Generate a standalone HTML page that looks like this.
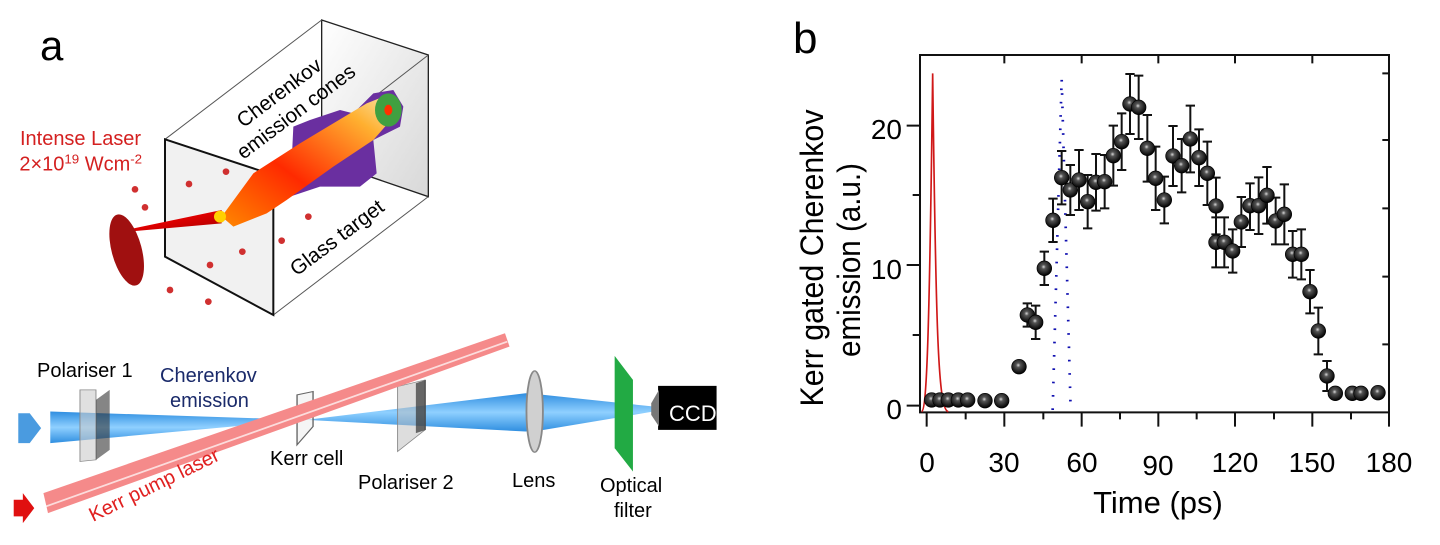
<!DOCTYPE html>
<html><head><meta charset="utf-8"><style>
html,body{margin:0;padding:0;background:#fff;}
svg{display:block;font-family:"Liberation Sans",sans-serif;}
</style></head><body>
<svg width="1440" height="545" viewBox="0 0 1440 545" xmlns="http://www.w3.org/2000/svg">
<defs>
<radialGradient id="ball" cx="0.45" cy="0.4" r="0.6">
<stop offset="0" stop-color="#d8d8d8"/><stop offset="0.25" stop-color="#555"/><stop offset="1" stop-color="#000"/>
</radialGradient>
<linearGradient id="plume" x1="0" y1="1" x2="1" y2="0">
<stop offset="0" stop-color="#ff8800"/><stop offset="0.4" stop-color="#ff2a00"/><stop offset="0.8" stop-color="#ffb030"/><stop offset="1" stop-color="#f8e8b0"/>
</linearGradient>
<linearGradient id="cone" x1="0" y1="0" x2="1" y2="1">
<stop offset="0" stop-color="#ff4040"/><stop offset="0.5" stop-color="#e00000"/><stop offset="1" stop-color="#a00000"/>
</linearGradient>
<linearGradient id="beam" x1="0" y1="0" x2="0" y2="1">
<stop offset="0" stop-color="#2f8ee0"/><stop offset="0.5" stop-color="#8fd0ff"/><stop offset="1" stop-color="#2f8ee0"/>
</linearGradient>
<linearGradient id="glass" x1="0" y1="0" x2="1" y2="1">
<stop offset="0" stop-color="#fff"/><stop offset="1" stop-color="#d8d8d8"/>
</linearGradient>
</defs>

<!-- Panel a top -->
<text x="40" y="60" font-size="42">a</text>
<g transform="scale(0.33333)">
<polygon points="965,60 1285,165 1285,590 965,480" fill="url(#glass)" stroke="#222" stroke-width="4"/>
<line x1="495" y1="418" x2="965" y2="60" stroke="#555" stroke-width="3"/>
<line x1="820" y1="525" x2="1285" y2="165" stroke="#555" stroke-width="3"/>
<line x1="820" y1="945" x2="1285" y2="590" stroke="#555" stroke-width="3"/>
<polygon points="495,418 820,525 820,945 495,770" fill="#eee" fill-opacity="0.8" stroke="#111" stroke-width="6"/>
<polygon points="880,380 930,360 1020,330 1060,340 1120,280 1180,270 1210,320 1200,380 1120,420 1130,520 1080,560 960,560 870,590" fill="#6a2fa0"/>
<polygon points="665,650 760,520 900,430 1100,310 1150,290 1190,340 1120,420 1000,500 860,600 800,640 700,680" fill="url(#plume)"/>
<ellipse cx="1165" cy="330" rx="40" ry="50" fill="#40a040"/>
<ellipse cx="1165" cy="330" rx="12" ry="16" fill="#ff3000"/>
<polygon points="330,700 665,630 665,670" fill="url(#cone)"/>
<ellipse cx="380" cy="750" rx="45" ry="110" transform="rotate(-15 380 750)" fill="#a01010"/>
<circle cx="660" cy="650" r="18" fill="#ffd000"/>
<g fill="#d03030"><circle cx="405" cy="568" r="10"/><circle cx="435" cy="622" r="10"/><circle cx="567" cy="552" r="10"/><circle cx="678" cy="515" r="10"/><circle cx="925" cy="650" r="10"/><circle cx="845" cy="722" r="10"/><circle cx="727" cy="755" r="10"/><circle cx="630" cy="795" r="10"/><circle cx="510" cy="870" r="10"/><circle cx="625" cy="905" r="10"/></g>
<text transform="translate(730,385) rotate(-37)" font-size="62">Cherenkov</text>
<text transform="translate(730,480) rotate(-37)" font-size="62">emission cones</text>
<text transform="translate(890,830) rotate(-37)" font-size="62">Glass target</text>
<text x="60" y="435" font-size="60" fill="#d42020">Intense Laser</text>
<text x="58" y="512" font-size="60" fill="#d42020">2×10<tspan font-size="40" dy="-22">19</tspan><tspan dy="22"> Wcm</tspan><tspan font-size="40" dy="-22">-2</tspan></text>
</g>

<!-- Panel a bottom -->
<g transform="translate(0,280) scale(0.457,0.333)">
<polygon points="110,395 670,420 110,490" fill="url(#beam)"/>
<polygon points="670,420 1150,340 1190,345 1430,380 1430,395 1190,450 1150,455" fill="url(#beam)"/>
<polygon points="40,400 65,400 90,445 65,490 40,490 40,465" fill="#4a9be0"/>
<polygon points="175,330 210,330 210,540 175,545" fill="#ccc" fill-opacity="0.6" stroke="#888" stroke-width="2"/>
<polygon points="210,360 240,330 240,510 210,540" fill="#333" fill-opacity="0.6"/>
<polygon points="870,320 930,300 930,450 870,515" fill="#bbb" fill-opacity="0.5" stroke="#888" stroke-width="2"/>
<polygon points="910,310 932,300 932,450 910,460" fill="#333" fill-opacity="0.7"/>
<polygon points="650,345 685,335 685,440 650,495" fill="#eee" fill-opacity="0.6" stroke="#666" stroke-width="3"/>
<polygon points="95,640 1105,160 1115,200 105,700" fill="#f58a8a"/>
<line x1="100" y1="680" x2="1110" y2="185" stroke="#fff" stroke-width="5" opacity="0.7"/>
<polygon points="30,660 50,660 50,640 75,685 50,730 50,710 30,710" fill="#e01010"/>
<ellipse cx="1170" cy="395" rx="18" ry="122" fill="#d0d0d0" stroke="#888" stroke-width="4"/>
<polygon points="1345,228 1385,300 1385,575 1345,505" fill="#22aa44"/>
<polygon points="1440,318 1568,318 1568,450 1440,450" fill="#000"/>
<polygon points="1425,370 1442,330 1442,440 1425,405" fill="#777"/>
</g>
<g font-size="20">
<text x="669" y="421" font-size="22" fill="#fff">CCD</text>
<text x="37" y="377">Polariser 1</text>
<text x="160" y="382" fill="#1a2a6a">Cherenkov</text>
<text x="170" y="407" fill="#1a2a6a">emission</text>
<text x="270" y="465">Kerr cell</text>
<text x="358" y="489">Polariser 2</text>
<text x="512" y="487">Lens</text>
<text x="600" y="492">Optical</text>
<text x="614" y="517">filter</text>
<text transform="translate(93,522) rotate(-26)" fill="#e02020">Kerr pump laser</text>
</g>

<!-- Panel b -->
<text x="793" y="53" font-size="44">b</text>
<text transform="translate(823,258) rotate(-90)" font-size="32" text-anchor="middle" textLength="297" lengthAdjust="spacingAndGlyphs">Kerr gated Cherenkov</text>
<text transform="translate(860,260) rotate(-90)" font-size="32" text-anchor="middle" textLength="194" lengthAdjust="spacingAndGlyphs">emission (a.u.)</text>
<g font-size="28" text-anchor="end">
<text x="902" y="139">20</text><text x="902" y="279">10</text><text x="902" y="419">0</text>
</g>
<g font-size="28" text-anchor="middle">
<text x="927" y="472">0</text><text x="1004" y="472">30</text><text x="1082" y="472">60</text><text x="1158" y="475">90</text><text x="1235" y="472">120</text><text x="1312" y="472">150</text><text x="1389" y="472">180</text>
</g>
<text x="1158" y="513" font-size="31" text-anchor="middle">Time (ps)</text>

<g transform="translate(900,40) scale(0.33333)" stroke="#111" stroke-width="6" fill="none">
<polyline points="1447,45 60,45 60,1117 1467,1117 1467,45 1447,45"/>
<path d="M20,257H60M20,675H60M20,1097H60M38,465H60M38,885H60"/>
<path d="M1447,100H1467M1447,300H1467M1447,505H1467M1447,710H1467M1447,913H1467"/>
<path d="M80,1117V1160M313,1117V1160M545,1117V1160M775,1117V1160M1005,1117V1160M1237,1117V1160M1467,1117V1160M197,1117V1138M430,1117V1138M660,1117V1138M890,1117V1138M1122,1117V1138M1353,1117V1138"/>
<path d="M313,45V70M545,45V70M775,45V70M1005,45V70M1237,45V70"/>
<path d="M65,1115 C80,1110 88,900 98,100 C108,900 115,1110 145,1115" stroke="#d01818" stroke-width="5"/>
<path d="M458,1110 L485,115 L512,1110" stroke="#1010b0" stroke-width="8" stroke-dasharray="5,35"/>
<path d="M382,790V860M368,790H396M368,860H396
M407,797V897M393,797H421M393,897H421
M433,635V735M419,635H447M419,735H447
M459,476V606M445,476H473M445,606H473
M485,333V493M471,333H499M471,493H499
M511,375V525M497,375H525M497,525H525
M537,330V510M523,330H551M523,510H551
M563,405V565M549,405H577M549,565H577
M588,342V512M574,342H602M574,512H602
M614,345V505M600,345H628M600,505H628
M640,257V437M626,257H654M626,437H654
M665,220V390M651,220H679M651,390H679
M690,102V282M676,102H704M676,282H704
M716,107V297M702,107H730M702,297H730
M742,225V425M728,225H756M728,425H756
M767,320V510M753,320H781M753,510H781
M793,410V550M779,410H807M779,550H807
M819,258V438M805,258H833M805,438H833
M845,297V457M831,297H859M831,457H859
M871,197V397M857,197H885M857,397H885
M897,268V438M883,268H911M883,438H911
M922,305V495M908,305H936M908,495H936
M948,413V583M934,413H962M934,583H962
M948,532V682M934,532H962M934,682H962
M973,532V682M959,532H987M959,682H987
M998,568V698M984,568H1012M984,698H1012
M1024,471V621M1010,471H1038M1010,621H1038
M1050,430V570M1036,430H1064M1036,570H1064
M1076,412V582M1062,412H1090M1062,582H1090
M1101,381V551M1087,381H1115M1087,551H1115
M1127,473V613M1113,473H1141M1113,613H1141
M1153,433V613M1139,433H1167M1139,613H1167
M1178,573V713M1164,573H1192M1164,713H1192
M1204,568V718M1190,568H1218M1190,718H1218
M1230,690V820M1216,690H1244M1216,820H1244
M1255,803V943M1241,803H1269M1241,943H1269
M1281,963V1053M1267,963H1295M1267,1053H1295"/>
<g fill="url(#ball)" stroke="#000" stroke-width="2">
<circle cx="95" cy="1080" r="22"/><circle cx="120" cy="1080" r="22"/><circle cx="145" cy="1080" r="22"/><circle cx="175" cy="1080" r="22"/><circle cx="203" cy="1080" r="22"/><circle cx="255" cy="1082" r="22"/><circle cx="305" cy="1082" r="22"/><circle cx="357" cy="980" r="22"/><circle cx="382" cy="825" r="22"/><circle cx="407" cy="847" r="22"/><circle cx="433" cy="685" r="22"/><circle cx="459" cy="541" r="22"/><circle cx="485" cy="413" r="22"/><circle cx="511" cy="450" r="22"/><circle cx="537" cy="420" r="22"/><circle cx="563" cy="485" r="22"/><circle cx="588" cy="427" r="22"/><circle cx="614" cy="425" r="22"/><circle cx="640" cy="347" r="22"/><circle cx="665" cy="305" r="22"/><circle cx="690" cy="192" r="22"/><circle cx="716" cy="202" r="22"/><circle cx="742" cy="325" r="22"/><circle cx="767" cy="415" r="22"/><circle cx="793" cy="480" r="22"/><circle cx="819" cy="348" r="22"/><circle cx="845" cy="377" r="22"/><circle cx="871" cy="297" r="22"/><circle cx="897" cy="353" r="22"/><circle cx="922" cy="400" r="22"/><circle cx="948" cy="498" r="22"/><circle cx="948" cy="607" r="22"/><circle cx="973" cy="607" r="22"/><circle cx="998" cy="633" r="22"/><circle cx="1024" cy="546" r="22"/><circle cx="1050" cy="497" r="22"/><circle cx="1076" cy="497" r="22"/><circle cx="1101" cy="466" r="22"/><circle cx="1127" cy="543" r="22"/><circle cx="1153" cy="523" r="22"/><circle cx="1178" cy="643" r="22"/><circle cx="1204" cy="643" r="22"/><circle cx="1230" cy="755" r="22"/><circle cx="1255" cy="873" r="22"/><circle cx="1281" cy="1008" r="22"/><circle cx="1306" cy="1060" r="22"/><circle cx="1357" cy="1060" r="22"/><circle cx="1383" cy="1060" r="22"/><circle cx="1434" cy="1058" r="22"/>
</g>
</g>
</svg>
</body></html>
